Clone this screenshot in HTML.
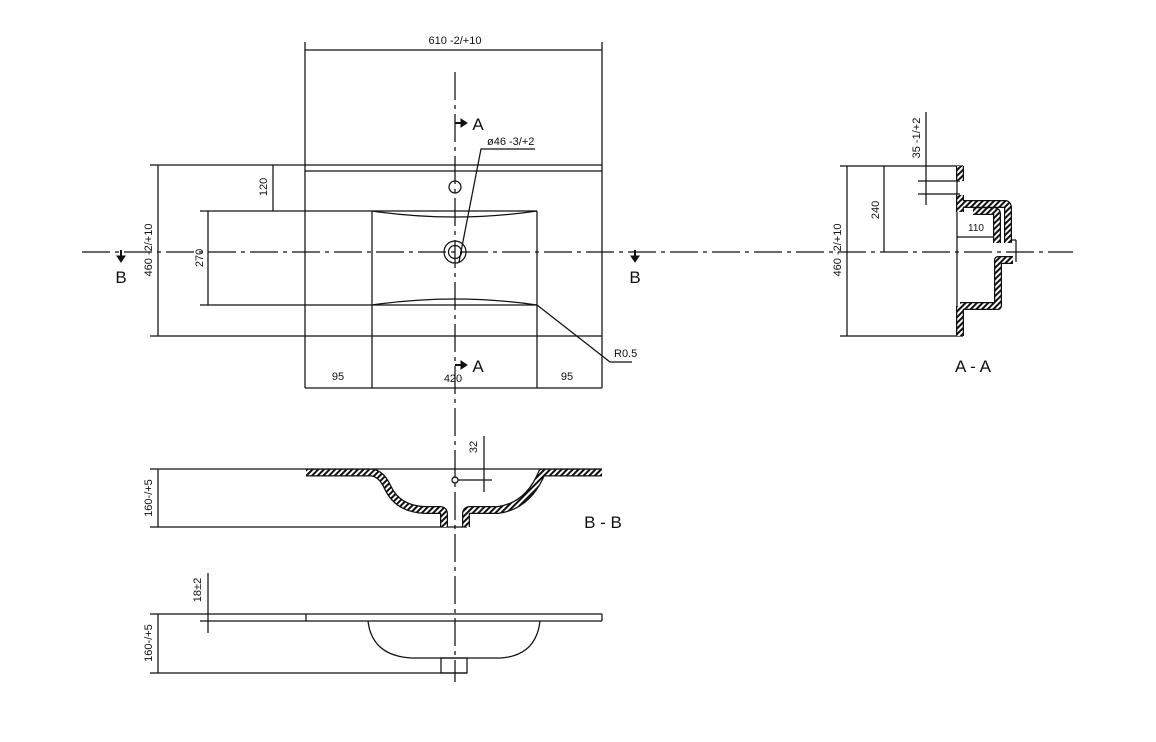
<!DOCTYPE html>
<html><head><meta charset="utf-8"><style>
html,body{margin:0;padding:0;background:#fff}
svg{display:block}
text{font-family:"Liberation Sans","DejaVu Sans",sans-serif;fill:#111}
</style></head><body>
<svg width="1156" height="742" viewBox="0 0 1156 742" xmlns="http://www.w3.org/2000/svg">
<defs>
<pattern id="h" width="4" height="4" patternUnits="userSpaceOnUse" patternTransform="rotate(45)">
<rect width="4" height="4" fill="#fff"/><rect width="2" height="4" fill="#111"/>
</pattern>
</defs>
<g stroke="#111" stroke-width="1.25" fill="none">
<!-- centerlines -->
<line x1="82" y1="252" x2="1073" y2="252" stroke-dasharray="28,5,4,5"/>
<line x1="455" y1="72" x2="455" y2="682" stroke-dasharray="28,5,4,5"/>

<!-- PLAN -->
<line x1="305" y1="42" x2="305" y2="388"/>
<line x1="602" y1="42" x2="602" y2="388"/>
<line x1="305" y1="50" x2="602" y2="50"/>
<line x1="150" y1="165" x2="602" y2="165"/>
<line x1="305" y1="171" x2="602" y2="171"/>
<line x1="150" y1="336" x2="602" y2="336"/>
<line x1="158" y1="165" x2="158" y2="336"/>
<line x1="200" y1="211" x2="537" y2="211"/>
<line x1="200" y1="305" x2="537" y2="305"/>
<line x1="208" y1="211" x2="208" y2="305"/>
<line x1="273" y1="165" x2="273" y2="211"/>
<line x1="372" y1="211" x2="372" y2="388"/>
<line x1="537" y1="211" x2="537" y2="388"/>
<path d="M372,211 Q455,223 537,211"/>
<path d="M372,305 Q455,293 537,305"/>
<line x1="305" y1="388" x2="602" y2="388"/>
<circle cx="455" cy="187" r="6"/>
<circle cx="455" cy="252" r="11"/>
<circle cx="455" cy="252" r="6.5"/>
<polyline points="459,262 481,149 535,149"/>
<polyline points="537,305 610,362 632,362"/>

<!-- A-A -->
<line x1="840" y1="166" x2="963" y2="166"/>
<line x1="840" y1="336" x2="963" y2="336"/>
<line x1="847" y1="166" x2="847" y2="336"/>
<line x1="884" y1="166" x2="884" y2="252"/>
<line x1="926" y1="112" x2="926" y2="205"/>
<line x1="918" y1="181" x2="960" y2="181"/>
<line x1="918" y1="194" x2="960" y2="194"/>
<line x1="957" y1="166" x2="957" y2="336"/>
<line x1="957" y1="237" x2="996" y2="237"/>
<line x1="1012" y1="240" x2="1016" y2="240"/>
<line x1="1016" y1="240" x2="1016" y2="262"/>
</g>

<g fill="none" stroke-linejoin="round">
<g stroke="#111" stroke-width="8">
<path d="M960,166 V181"/>
<path d="M960,195 V212"/>
<path d="M960,204 H1005 Q1008,204 1008,208 V243"/>
<path d="M973,211 H994 Q997,211 997,214 V243"/>
<path d="M960,306 V336"/>
<path d="M960,306 H998 V260 H1013"/>
</g>
<g stroke="url(#h)" stroke-width="5.5">
<path d="M960,166 V181"/>
<path d="M960,195 V212"/>
<path d="M960,204 H1005 Q1008,204 1008,208 V243"/>
<path d="M973,211 H994 Q997,211 997,214 V243"/>
<path d="M960,306 V336"/>
<path d="M960,306 H998 V260 H1013"/>
</g>
</g>

<!-- B-B -->
<g stroke="#111" stroke-width="1.25" fill="none">
<line x1="150" y1="469" x2="602" y2="469"/>
<line x1="150" y1="527" x2="467" y2="527"/>
<line x1="158" y1="469" x2="158" y2="527"/>
<line x1="484" y1="436" x2="484" y2="492"/>
<line x1="458" y1="480" x2="492" y2="480"/>
<circle cx="455" cy="480" r="3"/>
</g>
<g fill="none" stroke-linejoin="round">
<g stroke="#111" stroke-width="8">
<path d="M306,472.5 H372 Q382,474 388,488 Q398,509 425,510 H440 Q444,510 444,514 V527"/>
<path d="M466,527 V514 Q466,510 470,510 H498 Q528,506 542,472.5 H602"/>
</g>
<g stroke="url(#h)" stroke-width="5.5">
<path d="M306,472.5 H372 Q382,474 388,488 Q398,509 425,510 H440 Q444,510 444,514 V527"/>
<path d="M466,527 V514 Q466,510 470,510 H498 Q528,506 542,472.5 H602"/>
</g>
</g>

<!-- bottom elevation -->
<g stroke="#111" stroke-width="1.25" fill="none">
<line x1="150" y1="614" x2="602" y2="614"/>
<line x1="200" y1="621" x2="602" y2="621"/>
<line x1="306" y1="614" x2="306" y2="621"/>
<line x1="602" y1="614" x2="602" y2="621"/>
<line x1="208" y1="573" x2="208" y2="633"/>
<path d="M368,621 Q372,656 412,658 H500 Q536,656 540,621"/>
<rect x="441" y="658" width="26" height="15"/>
<line x1="150" y1="673" x2="467" y2="673"/>
<line x1="158" y1="614" x2="158" y2="673"/>
</g>

<!-- arrows -->
<g fill="#111" stroke="#111">
<line x1="455" y1="123" x2="461" y2="123" stroke-width="2"/><polygon points="461,119 467,123 461,127"/>
<line x1="455" y1="365" x2="461" y2="365" stroke-width="2"/><polygon points="461,361 467,365 461,369"/>
<line x1="121" y1="250" x2="121" y2="256" stroke-width="2"/><polygon points="117,256 125,256 121,262"/>
<line x1="635" y1="250" x2="635" y2="256" stroke-width="2"/><polygon points="631,256 639,256 635,262"/>
</g>

<!-- text -->
<g font-size="11">
<text x="455" y="44" text-anchor="middle">610 -2/+10</text>
<text x="487" y="145">ø46 -3/+2</text>
<text x="614" y="357">R0.5</text>
<text x="338" y="380" text-anchor="middle">95</text>
<text x="453" y="382" text-anchor="middle">420</text>
<text x="567" y="380" text-anchor="middle">95</text>
<text transform="translate(152,250) rotate(-90)" text-anchor="middle">460 -2/+10</text>
<text transform="translate(203,258) rotate(-90)" text-anchor="middle">270</text>
<text transform="translate(267,187) rotate(-90)" text-anchor="middle">120</text>
<text transform="translate(841,250) rotate(-90)" text-anchor="middle">460 -2/+10</text>
<text transform="translate(879,210) rotate(-90)" text-anchor="middle">240</text>
<text transform="translate(920,138) rotate(-90)" text-anchor="middle">35 -1/+2</text>
<text x="976" y="231" text-anchor="middle" font-size="10">110</text>
<text transform="translate(152,498) rotate(-90)" text-anchor="middle">160-/+5</text>
<text transform="translate(477,447) rotate(-90)" text-anchor="middle">32</text>
<text transform="translate(152,643) rotate(-90)" text-anchor="middle">160-/+5</text>
<text transform="translate(201,590) rotate(-90)" text-anchor="middle">18±2</text>
</g>
<g font-size="17">
<text x="478" y="130" text-anchor="middle">A</text>
<text x="478" y="372" text-anchor="middle">A</text>
<text x="121" y="283" text-anchor="middle">B</text>
<text x="635" y="283" text-anchor="middle">B</text>
<text x="973" y="372" text-anchor="middle">A - A</text>
<text x="603" y="528" text-anchor="middle">B - B</text>
</g>
</svg>
</body></html>
